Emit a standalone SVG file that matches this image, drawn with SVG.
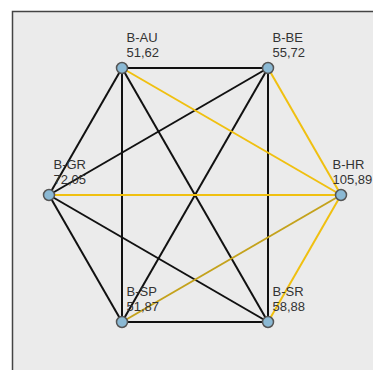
<svg xmlns="http://www.w3.org/2000/svg" width="373" height="370" viewBox="0 0 373 370">
<style>
.e{stroke:#111;stroke-width:2;fill:none}
.y{stroke:#f0c010;stroke-width:2;fill:none}
.yd{stroke:#c4a21c;stroke-width:2;fill:none}
.n{fill:#8bb9d4;stroke:#555;stroke-width:1.5}
text{font-family:"Liberation Sans",Arial,sans-serif;font-size:13px;fill:#333}
</style>
<rect x="0" y="0" width="373" height="370" fill="#fff"/>
<rect x="12.5" y="11.5" width="380" height="380" fill="#ebebeb" stroke="#444" stroke-width="1.5"/>
<g id="connectors">
<line class="e" x1="122" y1="68" x2="268" y2="68"/>
<line class="e" x1="122" y1="68" x2="49" y2="195"/>
<line class="e" x1="122" y1="68" x2="122" y2="322"/>
<line class="e" x1="122" y1="68" x2="268" y2="322"/>
<line class="e" x1="268" y1="68" x2="49" y2="195"/>
<line class="e" x1="268" y1="68" x2="122" y2="322"/>
<line class="e" x1="268" y1="68" x2="268" y2="322"/>
<line class="e" x1="49" y1="195" x2="122" y2="322"/>
<line class="e" x1="49" y1="195" x2="268" y2="322"/>
<line class="e" x1="122" y1="322" x2="268" y2="322"/>
<line class="y" x1="122" y1="68" x2="341" y2="195"/>
<line class="y" x1="268" y1="68" x2="341" y2="195"/>
<line class="y" x1="49" y1="195" x2="341" y2="195"/>
<line class="yd" x1="122" y1="322" x2="341" y2="195"/>
<line class="y" x1="268" y1="322" x2="341" y2="195"/>
</g>
<g id="B-AU"><circle class="n" cx="122" cy="68" r="5.5"/><text x="126.5" y="42">B-AU</text><text x="126.5" y="57">51,62</text></g>
<g id="B-BE"><circle class="n" cx="268" cy="68" r="5.5"/><text x="272.5" y="42">B-BE</text><text x="272.5" y="57">55,72</text></g>
<g id="B-GR"><circle class="n" cx="49" cy="195" r="5.5"/><text x="53.5" y="169">B-GR</text><text x="53.5" y="184">72,05</text></g>
<g id="B-HR"><circle class="n" cx="341" cy="195" r="5.5"/><text x="332.5" y="169">B-HR</text><text x="332.5" y="184">105,89</text></g>
<g id="B-SP"><circle class="n" cx="122" cy="322" r="5.5"/><text x="126.5" y="296">B-SP</text><text x="126.5" y="311">51,87</text></g>
<g id="B-SR"><circle class="n" cx="268" cy="322" r="5.5"/><text x="272.5" y="296">B-SR</text><text x="272.5" y="311">58,88</text></g>
</svg>
